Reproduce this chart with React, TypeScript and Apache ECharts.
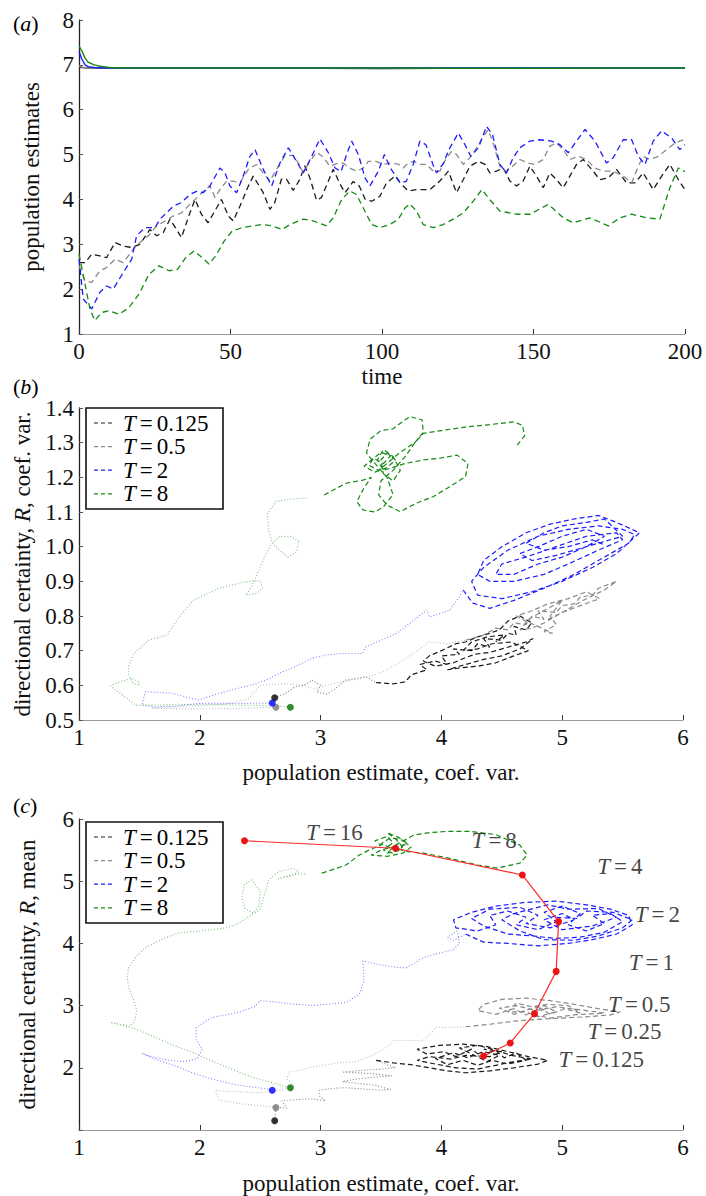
import React, { useEffect, useRef } from 'react';
import * as echarts from 'echarts';

const FONT = 'Liberation Serif';

// ---------------- Panel (a): population estimates vs time ----------------
const aBlackSolid = [[0, 6.95], [1, 6.94], [3, 6.93], [50, 6.93], [100, 6.92], [150, 6.93], [200, 6.93]];
const aGraySolid = [[0, 6.97], [1, 6.95], [3, 6.93], [60, 6.93], [120, 6.93], [200, 6.93]];
const aBlueSolid = [[0, 7.3], [1, 7.12], [2, 7.0], [3, 6.96], [5, 6.94], [8, 6.93], [200, 6.93]];
const aGreenSolid = [[0, 7.42], [1, 7.3], [2, 7.15], [3, 7.06], [5, 7.0], [7, 6.97], [10, 6.94], [15, 6.93], [80, 6.93], [140, 6.925], [200, 6.93]];

const aBlackDash = [[0,2.59],[2,2.59],[4.2,2.78],[6.9,2.74],[9.1,2.7],[11.9,3.04],[14.6,2.96],[17.4,2.93],[20.1,3.0],[23.4,3.33],[25.6,3.19],[27.8,3.26],[30,3.56],[32.2,3.33],[33.8,3.15],[36.6,3.7],[38.3,4.0],[40.4,3.67],[42.6,3.48],[45.4,3.81],[47,4.0],[49.3,3.63],[50.9,3.52],[53.1,3.85],[55.9,4.3],[57.5,4.52],[60.8,4.15],[63,3.78],[64.6,3.93],[66.8,4.45],[68.5,4.45],[70.7,4.2],[72.9,4.45],[74.5,4.75],[76.2,4.48],[78.4,3.98],[80,4.04],[82.3,4.41],[83.9,4.67],[86.1,4.35],[87.8,4.15],[90.5,4.4],[92.5,4.3],[94.5,4.0],[96.6,3.96],[99.3,4.07],[101.5,4.37],[104.3,4.52],[106.5,4.33],[108.7,4.19],[111.4,4.22],[115.8,4.22],[119.1,4.41],[121.9,4.63],[124.6,4.15],[126.8,4.44],[129,4.74],[131.8,4.85],[134,4.78],[135.6,4.59],[137.8,4.63],[140,4.7],[142.2,4.41],[144.4,4.3],[146.6,4.41],[148.8,4.74],[151,4.52],[153.2,4.26],[155.4,4.59],[157.6,4.44],[159.8,4.26],[162,4.52],[164.2,4.78],[166.4,4.89],[169.2,4.67],[171.9,4.44],[174.7,4.48],[177.4,4.67],[180.7,4.37],[183.5,4.37],[186.2,4.59],[189.5,4.22],[192.3,4.52],[195,4.78],[197.8,4.44],[200,4.22]];
const aGrayDash = [[0,2.52],[2,2.18],[4.2,2.15],[6.9,2.41],[9.1,2.48],[11.9,2.67],[14.6,2.59],[17.9,2.89],[20.1,3.04],[22.9,3.19],[25.6,3.41],[28.4,3.52],[31.1,3.63],[33.8,3.7],[36.6,3.89],[39.4,4.07],[41.6,4.22],[43.2,4.3],[44.9,4.04],[46.5,4.22],[48.7,4.41],[50.9,4.41],[53.1,4.37],[55.9,4.67],[58.6,4.78],[60.8,4.59],[63,4.41],[65.2,4.67],[68,4.98],[70.7,4.98],[72.4,4.81],[74,4.6],[76.2,4.85],[78.4,5.05],[80.5,4.95],[82.8,4.74],[85,4.8],[87.2,4.81],[89.4,4.7],[91.6,4.63],[93.8,4.7],[95.5,4.85],[98,4.85],[100.4,4.78],[103,4.82],[105.5,4.78],[107,4.7],[108.7,4.81],[110.5,4.85],[112.5,4.78],[114.7,4.78],[116.9,4.63],[119.1,4.63],[121.3,4.93],[123,5.07],[124.6,5.0],[126.8,4.78],[129,4.93],[131.2,5.15],[133.4,5.4],[135,5.55],[136.5,5.3],[138.9,4.74],[141,4.63],[143.3,4.75],[145.5,4.89],[148.3,4.81],[150.5,4.78],[153.2,4.89],[155.4,5.19],[157.6,5.26],[159.8,5.11],[162,4.89],[164.8,4.96],[167.5,4.89],[170.3,4.7],[173,4.63],[176.3,4.63],[179.6,4.52],[182.4,4.37],[184.6,4.74],[186.2,4.96],[188.4,4.89],[191.2,4.96],[193.9,5.11],[196.7,5.26],[199.4,5.33],[200,5.3]];
const aBlueDash = [[0,2.67],[1.4,1.78],[4.2,1.56],[6.9,1.93],[9.1,2.07],[11.3,2.0],[14.6,2.37],[17.4,2.67],[19,3.19],[21.8,3.37],[25.1,3.37],[26.7,3.56],[28.9,3.7],[31.1,3.85],[33.8,3.93],[36.6,4.11],[38.8,4.18],[41,4.15],[43.2,4.3],[46.5,4.7],[48.2,4.59],[49.8,4.3],[52,4.15],[54.2,4.52],[56.4,4.96],[58.1,5.11],[60.8,4.67],[63.6,4.3],[66.3,4.81],[69.1,5.15],[71.8,4.85],[74,4.59],[76.8,4.96],[79.5,5.35],[82.3,5.04],[84.5,4.7],[86.5,4.62],[88.3,5.0],[90,5.3],[92.2,5.0],[94.4,4.48],[96,4.3],[98.8,4.63],[100.8,5.0],[102.6,4.72],[105.9,4.38],[108,4.4],[110.3,4.78],[112.5,5.3],[114.5,5.22],[116.8,4.78],[118,4.59],[120.2,4.8],[122.4,5.15],[125.2,5.48],[127.4,5.22],[129.3,4.96],[131.8,5.15],[134.5,5.63],[136.5,5.44],[138.9,4.78],[141.1,4.59],[143.3,4.93],[145.5,5.15],[148.8,5.3],[152.1,5.33],[156,5.3],[158.7,5.22],[161.5,5.04],[164.2,5.3],[167,5.56],[170.3,5.3],[174.1,4.81],[176.3,4.93],[179.6,5.33],[182.4,5.33],[184.6,4.96],[186.8,4.78],[189.5,5.3],[192.3,5.53],[195.6,5.37],[198.3,5.11],[200,5.22]];
const aGreenDash = [[0,2.78],[2.2,2.04],[3.6,1.56],[5.2,1.3],[7.5,1.48],[9.9,1.52],[13.2,1.44],[16.5,1.59],[19.8,1.89],[23.1,2.33],[26.4,2.52],[29.7,2.41],[32.5,2.44],[35.2,2.7],[38,2.85],[40.7,2.7],[42.9,2.56],[45.1,2.74],[47.9,3.07],[50.6,3.3],[53.9,3.37],[57.2,3.41],[60.5,3.44],[63.8,3.41],[67.1,3.33],[69.6,3.44],[74,3.56],[77.3,3.52],[81.7,3.41],[83.9,3.59],[86.7,4.0],[89.4,4.19],[91.6,4.11],[93.8,3.81],[96.6,3.44],[99.3,3.37],[102.6,3.44],[105.4,3.56],[107.6,3.81],[109.2,3.9],[111.4,3.74],[113.6,3.44],[116.9,3.37],[120.2,3.44],[123.5,3.56],[126.8,3.7],[130.1,3.96],[133,4.22],[135.5,4.0],[138.9,3.74],[144.4,3.67],[148.8,3.67],[154.9,3.89],[159.8,3.59],[163.1,3.48],[168.6,3.59],[174.7,3.41],[178.5,3.59],[182.4,3.67],[187.3,3.59],[191.7,3.56],[195,4.26],[197.8,4.7],[200,4.62]];

// ---------------- Panel (b): R coef. var. vs population estimate coef. var. ----------------
const bGreenDot = [[2.75,0.538],[2.5,0.542],[2.2,0.544],[2.0,0.545],[1.8,0.544],[1.6,0.543],[1.47,0.543],[1.26,0.598],[1.35,0.612],[1.44,0.62],[1.5,0.61],[1.5,0.6],[1.45,0.605],[1.41,0.63],[1.41,0.654],[1.455,0.692],[1.58,0.731],[1.73,0.745],[1.83,0.798],[1.95,0.846],[2.16,0.88],[2.38,0.899],[2.5,0.902],[2.52,0.88],[2.47,0.865],[2.38,0.86],[2.43,0.885],[2.46,0.91],[2.49,0.933],[2.55,0.981],[2.6,1.01],[2.66,1.029],[2.75,1.03],[2.82,1.015],[2.8,0.985],[2.73,0.97],[2.66,0.99],[2.6,1.01],[2.57,1.05],[2.56,1.096],[2.63,1.13],[2.75,1.137],[2.88,1.14]];
const bGreenDash = [[3.03,1.149],[3.21,1.183],[3.35,1.192],[3.42,1.2],[3.36,1.17],[3.3,1.13],[3.35,1.106],[3.45,1.1],[3.52,1.115],[3.6,1.15],[3.55,1.2],[3.45,1.24],[3.38,1.27],[3.41,1.31],[3.5,1.335],[3.6,1.34],[3.66,1.356],[3.74,1.375],[3.84,1.366],[3.85,1.33],[3.78,1.3],[3.65,1.27],[3.55,1.24],[3.48,1.22],[3.4,1.235],[3.44,1.255],[3.52,1.24],[3.58,1.262],[3.5,1.272],[3.42,1.25],[3.36,1.232],[3.45,1.215],[3.55,1.228],[3.62,1.25],[3.55,1.27],[3.5,1.25],[3.52,1.21],[3.6,1.19],[3.66,1.22],[3.6,1.26],[3.52,1.28],[3.47,1.25],[3.52,1.22],[3.7,1.24],[3.85,1.25],[3.98,1.255],[4.13,1.264],[4.22,1.24],[4.2,1.202],[4.07,1.173],[3.93,1.144],[3.79,1.125],[3.66,1.101],[3.55,1.12],[3.48,1.15],[3.5,1.19],[3.6,1.22],[3.7,1.26],[3.78,1.3],[3.85,1.327],[4.0,1.335],[4.2,1.345],[4.4,1.352],[4.6,1.36],[4.67,1.35],[4.69,1.32],[4.62,1.29]];
const bBlueDot = [[2.6,0.549],[2.4,0.548],[2.2,0.548],[1.99,0.548],[1.8,0.54],[1.63,0.538],[1.52,0.543],[1.55,0.582],[1.65,0.58],[1.77,0.577],[1.9,0.565],[1.99,0.558],[2.16,0.577],[2.3,0.59],[2.43,0.601],[2.55,0.615],[2.66,0.635],[2.8,0.656],[2.93,0.678],[3.05,0.688],[3.18,0.692],[3.35,0.692],[3.37,0.71],[3.5,0.73],[3.63,0.75],[3.88,0.817],[3.9,0.797],[4.07,0.817],[4.15,0.856],[4.18,0.875]];
const bBlueDash = [[4.18,0.875],[4.26,0.837],[4.4,0.822],[4.6,0.845],[4.85,0.88],[5.1,0.92],[5.35,0.97],[5.55,1.01],[5.6,1.035],[5.5,1.05],[5.3,1.06],[5.05,1.05],[4.8,1.03],[4.55,0.99],[4.35,0.94],[4.25,0.9],[4.3,0.86],[4.5,0.85],[4.75,0.87],[5.0,0.9],[5.25,0.94],[5.45,0.98],[5.64,1.04],[5.45,1.07],[5.3,1.09],[5.1,1.08],[4.9,1.065],[4.7,1.04],[4.5,1.0],[4.35,0.96],[4.3,0.92],[4.4,0.9],[4.6,0.9],[4.85,0.92],[5.05,0.95],[5.3,0.99],[5.5,1.02],[5.45,1.04],[5.2,1.03],[4.95,1.0],[4.7,0.97],[4.5,0.95],[4.45,0.92],[4.6,0.92],[4.8,0.95],[5.0,0.97],[5.2,1.0],[5.35,1.03],[5.2,1.05],[5.0,1.03],[4.8,1.0],[4.65,0.98],[4.75,0.96],[4.95,0.975],[5.1,0.99],[5.3,1.01],[5.5,1.03],[5.35,1.08],[5.2,1.07],[5.0,1.06],[4.85,1.04],[4.7,1.01],[4.85,0.99],[5.05,1.0],[5.25,1.02],[5.35,1.005]];
const bBlackDot = [[2.62,0.564],[2.7,0.575],[2.79,0.596],[2.86,0.6],[2.93,0.615],[3.0,0.6],[2.97,0.58],[3.05,0.575],[3.12,0.59],[3.21,0.615],[3.3,0.62],[3.37,0.625],[3.46,0.608]];
const bBlackDash = [[3.46,0.608],[3.6,0.604],[3.7,0.61],[3.75,0.63],[3.88,0.645],[3.82,0.66],[3.95,0.67],[4.05,0.66],[4.0,0.685],[4.15,0.69],[4.1,0.705],[4.25,0.7],[4.3,0.72],[4.4,0.71],[4.35,0.735],[4.5,0.73],[4.55,0.75],[4.62,0.745],[4.6,0.77],[4.7,0.76],[4.75,0.78],[4.65,0.8],[4.55,0.785],[4.48,0.76],[4.4,0.75],[4.3,0.74],[4.2,0.725],[4.12,0.72],[4.0,0.7],[3.9,0.685],[3.85,0.67],[3.95,0.655],[4.1,0.665],[4.2,0.68],[4.28,0.69],[4.4,0.695],[4.5,0.705],[4.6,0.715],[4.7,0.725],[4.76,0.735],[4.65,0.705],[4.5,0.685],[4.35,0.675],[4.2,0.66],[4.05,0.645],[4.15,0.65],[4.3,0.655],[4.45,0.665],[4.6,0.685],[4.72,0.7],[4.58,0.725],[4.42,0.72],[4.3,0.705],[4.18,0.7],[4.25,0.725],[4.38,0.74],[4.52,0.745],[4.45,0.725]];
const bGrayDot = [[2.63,0.537],[2.3,0.533],[1.9,0.532],[1.6,0.534],[1.9,0.54],[2.2,0.545],[2.4,0.56],[2.5,0.6],[2.7,0.605],[2.85,0.6],[2.95,0.59],[3.1,0.605],[3.25,0.615],[3.4,0.625],[3.52,0.64],[3.65,0.665],[3.8,0.7],[3.9,0.725],[4.05,0.72],[4.2,0.73]];
const bGrayDash = [[4.2,0.73],[4.35,0.745],[4.45,0.765],[4.55,0.76],[4.6,0.78],[4.7,0.775],[4.75,0.8],[4.85,0.79],[4.8,0.815],[4.95,0.81],[5.0,0.83],[5.1,0.835],[5.15,0.855],[5.25,0.86],[5.3,0.88],[5.45,0.9],[5.35,0.875],[5.2,0.85],[5.05,0.82],[4.95,0.8],[4.85,0.78],[4.75,0.765],[4.65,0.76],[4.72,0.79],[4.82,0.81],[4.9,0.825],[5.0,0.845],[4.9,0.8],[4.95,0.775],[4.85,0.755],[4.92,0.75],[4.8,0.77],[4.7,0.785],[4.62,0.8],[4.75,0.815],[4.88,0.835],[5.05,0.85],[5.2,0.87],[5.31,0.85],[5.15,0.83],[5.0,0.81],[4.88,0.79]];
const bStartDots = [[2.62, 0.564], [2.63, 0.537], [2.6, 0.549], [2.75, 0.537]];

// ---------------- Panel (c): R mean vs population estimate coef. var. ----------------
const cGreenDot = [[2.74,1.68],[2.6,1.76],[2.43,1.85],[2.3,1.95],[2.16,2.06],[2.05,2.15],[1.94,2.25],[1.8,2.35],[1.63,2.49],[1.5,2.6],[1.39,2.68],[1.26,2.73],[1.33,2.7],[1.41,2.65],[1.46,2.75],[1.48,2.92],[1.45,3.1],[1.41,3.29],[1.4,3.45],[1.41,3.61],[1.48,3.8],[1.55,3.93],[1.7,4.08],[1.83,4.17],[2.0,4.2],[2.1,4.22],[2.22,4.25],[2.3,4.3],[2.43,4.46],[2.49,4.6],[2.5,4.84],[2.43,5.02],[2.37,4.95],[2.35,4.75],[2.37,4.57],[2.45,4.48],[2.5,4.55],[2.53,4.75],[2.57,5.02],[2.65,5.15],[2.77,5.21],[2.82,5.15],[2.75,5.08],[2.65,5.04],[2.75,5.1],[2.88,5.12]];
const cGreenDash = [[3.01,5.13],[3.12,5.2],[3.21,5.26],[3.32,5.42],[3.4,5.5],[3.5,5.58],[3.45,5.65],[3.55,5.72],[3.6,5.62],[3.52,5.5],[3.6,5.45],[3.68,5.55],[3.62,5.68],[3.55,5.78],[3.65,5.7],[3.72,5.6],[3.6,5.52],[3.5,5.6],[3.58,5.7],[3.7,5.65],[3.66,5.5],[3.55,5.45],[3.62,5.58],[3.77,5.74],[3.9,5.78],[4.04,5.8],[4.24,5.8],[4.45,5.75],[4.65,5.58],[4.71,5.42],[4.65,5.29],[4.46,5.21],[4.3,5.26],[4.04,5.38],[3.85,5.45],[3.7,5.48],[3.6,5.55],[3.5,5.5],[3.42,5.42],[3.55,5.4],[3.68,5.45],[3.75,5.55],[3.7,5.62]];
const cBlueDot = [[2.59,1.65],[2.45,1.69],[2.32,1.72],[2.18,1.78],[2.05,1.85],[1.92,1.93],[1.83,2.01],[1.72,2.08],[1.63,2.14],[1.52,2.23],[1.62,2.17],[1.75,2.12],[1.88,2.1],[1.98,2.15],[2.02,2.3],[1.97,2.45],[1.97,2.65],[2.1,2.81],[2.32,2.89],[2.45,2.98],[2.5,3.08],[2.66,3.05],[2.8,3.02],[2.93,3.0],[3.1,3.03],[3.21,3.05],[3.32,3.18],[3.36,3.4],[3.35,3.72],[3.48,3.66],[3.65,3.61],[3.71,3.61],[3.85,3.77],[3.93,3.82],[4.1,3.9],[4.15,4.0],[4.13,4.2],[4.05,4.1],[4.1,4.05],[4.2,4.15]];
const cBlueDash = [[4.2,4.15],[4.35,4.02],[4.55,4.0],[4.8,3.96],[5.05,4.0],[5.25,4.06],[5.45,4.15],[5.58,4.3],[5.55,4.45],[5.4,4.55],[5.2,4.62],[4.95,4.68],[4.7,4.66],[4.45,4.6],[4.25,4.5],[4.1,4.38],[4.12,4.25],[4.3,4.2],[4.45,4.3],[4.4,4.45],[4.55,4.52],[4.7,4.42],[4.62,4.3],[4.8,4.22],[4.95,4.35],[4.85,4.5],[5.0,4.6],[5.15,4.48],[5.05,4.3],[5.2,4.2],[5.35,4.32],[5.25,4.45],[5.4,4.48],[5.5,4.35],[5.35,4.18],[5.15,4.1],[4.95,4.08],[4.75,4.12],[4.55,4.15],[4.35,4.28],[4.25,4.4],[4.4,4.55],[4.65,4.58],[4.8,4.45],[4.7,4.32],[4.9,4.25],[5.1,4.38],[5.0,4.48],[4.85,4.38],[5.0,4.22],[5.25,4.28],[5.45,4.42],[5.3,4.56],[5.05,4.55],[4.88,4.62],[4.6,4.48],[4.5,4.38],[4.65,4.2],[4.85,4.06],[5.1,4.05],[5.3,4.12],[5.5,4.25],[5.58,4.38],[5.42,4.5],[5.2,4.52],[5.12,4.4],[4.95,4.42]];
const cBlackDot = [[2.62,1.15],[2.63,1.37],[2.72,1.35],[2.68,1.47],[2.8,1.49],[2.93,1.5],[3.04,1.47],[2.99,1.55],[2.99,1.64],[3.1,1.67],[3.21,1.68],[3.35,1.66],[3.48,1.64],[3.58,1.65],[3.45,1.72],[3.3,1.75],[3.18,1.78],[3.3,1.82],[3.45,1.85],[3.59,1.87],[3.45,1.9],[3.3,1.92],[3.18,1.93],[3.35,1.96],[3.5,1.98],[3.62,2.0],[3.46,2.12]];
const cBlackDash = [[3.46,2.12],[3.6,2.08],[3.75,2.05],[3.9,2.0],[4.05,1.95],[4.2,1.92],[4.4,1.95],[4.6,2.0],[4.8,2.06],[4.88,2.12],[4.72,2.18],[4.55,2.26],[4.38,2.34],[4.18,2.38],[3.98,2.36],[3.8,2.3],[3.88,2.22],[4.02,2.26],[4.12,2.18],[4.25,2.3],[4.32,2.2],[4.45,2.28],[4.52,2.16],[4.62,2.24],[4.7,2.12],[4.55,2.06],[4.42,2.12],[4.3,2.04],[4.18,2.12],[4.05,2.05],[3.95,2.15],[4.1,2.24],[4.22,2.16],[4.35,2.26],[4.48,2.2],[4.38,2.1],[4.25,2.22],[4.15,2.32],[4.3,2.36],[4.42,2.3],[4.58,2.2],[4.75,2.14],[4.6,2.1],[4.45,2.04],[4.3,1.98],[4.12,2.0],[3.95,2.06],[3.8,2.12],[3.9,2.18],[4.08,2.14],[4.2,2.2],[4.4,2.18],[4.5,2.26],[4.35,2.3]];
const cGrayDot = [[2.63,1.37],[2.5,1.39],[2.35,1.42],[2.16,1.48],[2.13,1.64],[2.25,1.62],[2.38,1.61],[2.5,1.6],[2.6,1.62],[2.7,1.65],[2.78,1.72],[2.72,1.82],[2.74,1.93],[2.85,1.97],[2.93,2.01],[3.05,2.05],[3.15,2.08],[3.29,2.1],[3.4,2.18],[3.48,2.25],[3.58,2.38],[3.6,2.44],[3.72,2.44],[3.85,2.44],[3.96,2.65],[4.1,2.65],[4.2,2.66]];
const cGrayDash = [[4.2,2.66],[4.4,2.7],[4.6,2.75],[4.8,2.78],[5.0,2.8],[5.2,2.82],[5.4,2.85],[5.48,2.9],[5.3,2.95],[5.1,3.02],[4.9,3.08],[4.7,3.12],[4.5,3.1],[4.35,3.02],[4.3,2.92],[4.45,2.86],[4.6,2.95],[4.7,2.85],[4.82,2.96],[4.9,2.86],[5.02,2.95],[5.15,2.88],[5.05,3.0],[4.88,3.02],[4.75,2.98],[4.62,3.04],[4.55,2.9],[4.7,2.9],[4.8,2.82],[4.95,2.9],[4.85,3.0],[4.72,2.94],[4.6,2.86],[4.48,2.96],[4.62,3.0],[4.78,2.92],[4.95,2.98],[5.2,2.92],[5.35,2.88],[5.1,2.85],[4.9,2.8],[4.75,2.86],[4.85,2.94]];
const cStartDots = [[2.62, 1.15], [2.63, 1.36], [2.6, 1.64], [2.75, 1.68]];
const cMeanPath = [[2.37,5.65],[3.62,5.53],[4.67,5.10],[4.97,4.35],[4.95,3.55],[4.77,2.87],[4.57,2.40],[4.35,2.19]];
const cAnnoT = ['16', '8', '4', '2', '1', '0.5', '0.25', '0.125'];
const cAnnoX = [2.88, 4.25, 5.29, 5.6, 5.55, 5.38, 5.21, 4.97];
const cAnnoY = [5.78, 5.66, 5.23, 4.46, 3.7, 3.01, 2.58, 2.14];

const legendT = ['0.125', '0.5', '2', '8'];
const COLORS = ['#1a1a1a', '#8a8a8a', '#1c1cff', '#138a13'];
const DOT_COLORS = ['#000000', '#777777', '#0000ff', '#006f00'];

const DASH = [5, 3];
const DOT = [1, 2];

function line(idx: number, data: number[][], color: string, dash: any, width = 1.2, opacity = 1, z = 2) {
  return {
    type: 'line', xAxisIndex: idx, yAxisIndex: idx, data, showSymbol: false, symbol: 'none',
    lineStyle: { color, width, type: dash, opacity }, z, silent: true, animation: false,
  };
}

function xAxis(idx: number, min: number, max: number, interval: number, name: string, gap: number) {
  return {
    type: 'value', gridIndex: idx, min, max, interval, name, nameLocation: 'middle', nameGap: gap,
    nameTextStyle: { fontFamily: FONT, fontSize: 23, color: '#111' },
    axisLine: { show: true, lineStyle: { color: '#9a9a9a', width: 1 } },
    axisTick: { show: true, inside: true, length: 5, lineStyle: { color: '#333' } },
    axisLabel: { fontFamily: FONT, fontSize: 23, color: '#111', margin: 6 },
    splitLine: { show: false },
  };
}

function yAxis(idx: number, min: number, max: number, interval: number, name: string, gap: number, fmt: (v: number) => string) {
  return {
    type: 'value', gridIndex: idx, min, max, interval, name, nameLocation: 'middle', nameGap: gap,
    nameTextStyle: { fontFamily: FONT, fontSize: 23, color: '#111', rich: { i: { fontFamily: FONT, fontSize: 23, fontStyle: 'italic', color: '#111' } } },
    axisLine: { show: true, lineStyle: { color: '#222', width: 1.3 } },
    axisTick: { show: true, inside: true, length: 4, lineStyle: { color: '#555' } },
    axisLabel: { fontFamily: FONT, fontSize: 23, color: '#111', margin: 5, formatter: fmt },
    splitLine: { show: false },
  };
}

const richT = {
  i: { fontFamily: FONT, fontSize: 23, fontStyle: 'italic', color: '#111' },
  e: { fontFamily: FONT, fontSize: 23, color: '#111', padding: [0, 4, 0, 4] },
  n: { fontFamily: FONT, fontSize: 23, color: '#111' },
};
const tText = (t: string) => `{i|T}{e|=}{n|${t}}`;

function legendGraphics(top: number) {
  const els: any[] = [
    { type: 'rect', z: 100, shape: { x: 86, y: top, width: 137, height: 101 }, style: { fill: '#fff', stroke: '#111', lineWidth: 1.6 } },
  ];
  legendT.forEach((t, i) => {
    const y = top + 15 + i * 23.6;
    els.push({ type: 'line', z: 101, shape: { x1: 94, y1: y, x2: 113, y2: y }, style: { stroke: COLORS[i], lineWidth: 1.2, lineDash: [4, 3] } });
    els.push({ type: 'text', z: 101, x: 123, y, style: { text: tText(t), verticalAlign: 'middle', rich: richT, fontFamily: FONT, fontSize: 23 } });
  });
  return els;
}

function panelLabel(letter: string, y: number) {
  return { type: 'text', z: 101, x: 13, y, style: { text: `{n|(}{i|${letter}}{n|)}`, verticalAlign: 'middle', fontFamily: FONT, rich: { i: { ...richT.i, fontSize: 22 }, n: { ...richT.n, fontSize: 22 } } } };
}

export default function App() {
  const ref = useRef<HTMLDivElement>(null);
  useEffect(() => {
    if (!ref.current) return;
    const chart = echarts.init(ref.current, undefined, { renderer: 'svg' });

    const trajB = [
      [bBlackDot, bBlackDash], [bGrayDot, bGrayDash], [bBlueDot, bBlueDash], [bGreenDot, bGreenDash],
    ];
    const trajC = [
      [cBlackDot, cBlackDash], [cGrayDot, cGrayDash], [cBlueDot, cBlueDash], [cGreenDot, cGreenDash],
    ];

    const series: any[] = [];
    [aBlackSolid, aGraySolid, aBlueSolid, aGreenSolid].forEach((d, i) => series.push(line(0, d, COLORS[i], 'solid', 1.4, 1, 3)));
    [aBlackDash, aGrayDash, aBlueDash, aGreenDash].forEach((d, i) => series.push(line(0, d, COLORS[i], [6, 4], 1.3, 1, 2)));
    [trajB, trajC].forEach((traj, p) => {
      traj.forEach((pair, i) => {
        series.push(line(p + 1, pair[0], COLORS[i], DOT, 1.1, 0.55, 2));
        series.push(line(p + 1, pair[1], COLORS[i], DASH, 1.2, 1, 2));
      });
    });
    [bStartDots, cStartDots].forEach((pts, p) => {
      series.push({
        type: 'scatter', xAxisIndex: p + 1, yAxisIndex: p + 1, symbolSize: 7, z: 5, silent: true,
        data: pts.map((v, i) => ({ value: v, itemStyle: { color: DOT_COLORS[i] } })),
      });
    });
    series.push({
      type: 'line', xAxisIndex: 2, yAxisIndex: 2, data: cMeanPath, symbol: 'circle', symbolSize: 7, showSymbol: true, z: 6,
      lineStyle: { color: '#ff2a2a', width: 1.2 }, itemStyle: { color: '#ee1111' }, silent: true,
    });
    series.push({
      type: 'scatter', xAxisIndex: 2, yAxisIndex: 2, symbolSize: 0, z: 7, silent: true,
      itemStyle: { color: '#000' },
      data: cAnnoT.map((t, i) => ({ value: [cAnnoX[i], cAnnoY[i]], name: 'T=' + t })),
      label: {
        show: true, position: 'right', distance: 0, color: '#111', fontFamily: FONT, fontSize: 23,
        formatter: (p: any) => tText(cAnnoT[p.dataIndex]),
        rich: richT,
      },
    });

    const option: any = {
      animation: false,
      backgroundColor: '#fff',
      textStyle: { fontFamily: FONT },
      grid: [
        { left: 79, top: 20, width: 606, height: 314 },
        { left: 79, top: 408, width: 604, height: 312 },
        { left: 79, top: 819, width: 604, height: 312 },
      ],
      xAxis: [
        xAxis(0, 0, 200, 50, 'time', 31),
        xAxis(1, 1, 6, 1, 'population estimate, coef. var.', 41),
        xAxis(2, 1, 6, 1, 'population estimate, coef. var.', 42),
      ],
      yAxis: [
        yAxis(0, 1, 8, 1, 'population estimates', 36, (v: number) => String(v)),
        yAxis(1, 0.5, 1.4, 0.1, 'directional certainty, {i|R}, coef. var.', 40, (v: number) => v.toFixed(1)),
        yAxis(2, 1, 6, 1, 'directional certainty, {i|R}, mean', 40, (v: number) => (Math.abs(v - 1) < 1e-9 ? '' : String(v))),
      ],
      graphic: [
        panelLabel('a', 23),
        panelLabel('b', 386),
        panelLabel('c', 805),
        ...legendGraphics(408),
        ...legendGraphics(822),
      ],
      series,
    };
    chart.setOption(option);
    return () => chart.dispose();
  }, []);
  return <div ref={ref} style={{ position: 'fixed', left: 0, top: 0, width: 706, height: 1196, background: '#fff' }} />;
}
